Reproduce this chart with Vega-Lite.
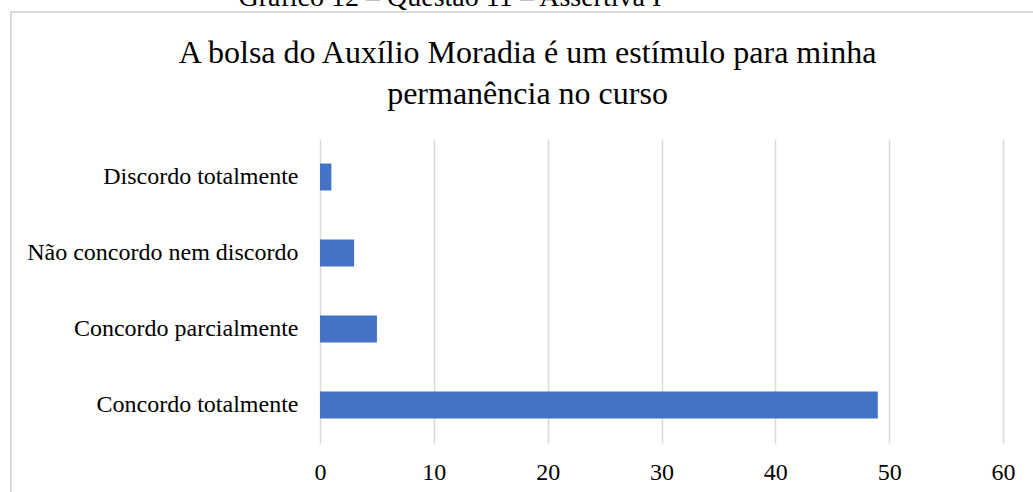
{
  "$schema": "https://vega.github.io/schema/vega-lite/v6.json",
  "autosize": {"type": "none"},
  "padding": {"left": 11, "top": 12, "right": -8, "bottom": -78},
  "width": 1030,
  "height": 558,
  "background": "white",
  "config": {
    "view": {"stroke": "#d9d9d9", "strokeWidth": 2, "fill": "white"},
    "font": "Liberation Serif"
  },
  "data": {
    "values": [
      {"categoria": "Discordo totalmente", "valor": 1},
      {"categoria": "Não concordo nem discordo", "valor": 3},
      {"categoria": "Concordo parcialmente", "valor": 5},
      {"categoria": "Concordo totalmente", "valor": 49}
    ]
  },
  "mark": {"type": "bar", "color": "#4472C4"},
  "encoding": {
    "y": {
      "field": "categoria",
      "type": "nominal",
      "sort": null,
      "scale": {"range": [127, 431], "paddingInner": 0.645, "paddingOuter": 0.3225},
      "axis": {
        "orient": "left",
        "offset": -287,
        "ticks": false,
        "tickSize": 0,
        "domain": false,
        "labelPadding": 0,
        "labelFont": "Liberation Serif",
        "labelFontSize": 24,
        "labelColor": "#000000",
        "labelLimit": 400,
        "title": ["A bolsa do Auxílio Moradia é um estímulo para minha", "permanência no curso"],
        "titleFont": "Liberation Serif",
        "titleFontSize": 32,
        "titleFontWeight": "normal",
        "titleColor": "#000000",
        "titleAngle": 0,
        "titleAlign": "center",
        "titleBaseline": "alphabetic",
        "titleLineHeight": 41,
        "titleX": 229,
        "titleY": 50
      }
    },
    "x": {
      "field": "valor",
      "type": "quantitative",
      "scale": {"domain": [0, 60], "nice": false, "range": [309, 992]},
      "axis": {
        "orient": "bottom",
        "offset": -91,
        "values": [0, 10, 20, 30, 40, 50, 60],
        "format": "d",
        "ticks": false,
        "tickSize": 0,
        "domain": false,
        "grid": true,
        "gridColor": "#d9d9d9",
        "gridWidth": 1.5,
        "labelPadding": 0,
        "labelBaseline": "alphabetic",
        "labelFont": "Liberation Serif",
        "labelFontSize": 24,
        "labelColor": "#000000",
        "labelFlush": false,
        "title": "Gráfico 12 – Questão 11 – Assertiva I",
        "titleFont": "Liberation Serif",
        "titleFontSize": 28,
        "titleFontWeight": "normal",
        "titleColor": "#000000",
        "titleAngle": 0,
        "titleAlign": "left",
        "titleBaseline": "alphabetic",
        "titleX": 227,
        "titleY": -474
      }
    }
  }
}
